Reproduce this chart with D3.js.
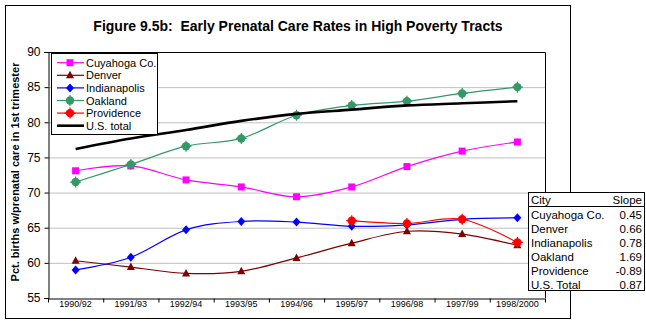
<!DOCTYPE html>
<html>
<head>
<meta charset="utf-8">
<script src="https://cdn.jsdelivr.net/npm/d3@7"></script>
<style>
  body { margin: 0; background: #fff; }
  svg { font-family: "Liberation Sans", Arial, sans-serif; }
</style>
</head>
<body>
<svg width="646" height="326"></svg>
<script>
const periods = ["1990/92", "1991/93", "1992/94", "1993/95", "1994/96", "1995/97", "1996/98", "1997/99", "1998/2000"];
const cuyahoga = [73.1, 73.8, 71.8, 70.8, 69.4, 70.8, 73.7, 75.9, 77.2];
const denver = [60.3, 59.4, 58.5, 58.8, 60.7, 62.8, 64.5, 64.1, 62.5];
const indianapolis = [59.0, 60.8, 64.7, 65.9, 65.8, 65.2, 65.4, 66.2, 66.4];
const oakland = [71.5, 74.0, 76.6, 77.7, 81.0, 82.4, 83.0, 84.1, 85.0];
const providence = [null, null, null, null, null, 66.0, 65.6, 66.2, 62.9];
const usTotal = [76.2, 77.7, 78.9, 80.2, 81.2, 81.8, 82.4, 82.7, 83.0];
const yTicks = [55, 60, 65, 70, 75, 80, 85, 90];
const tableCities = ["Cuyahoga Co.", "Denver", "Indianapolis", "Oakland", "Providence", "U.S. Total"];
const tableSlopes = ["0.45", "0.66", "0.78", "1.69", "-0.89", "0.87"];

const series = [
  {name: "Cuyahoga Co.", values: cuyahoga, color: "#ff00ff", marker: "square"},
  {name: "Denver", values: denver, color: "#800000", marker: "triangle"},
  {name: "Indianapolis", values: indianapolis, color: "#0000ff", marker: "diamond"},
  {name: "Oakland", values: oakland, color: "#339966", marker: "circle"},
  {name: "Providence", values: providence, color: "#ff0000", marker: "circle"},
  {name: "U.S. total", values: usTotal, color: "#000000", marker: null}
];

const svg = d3.select("svg");

// outer chart border
svg.append("rect").attr("x", 5.5).attr("y", 5.5).attr("width", 565).attr("height", 313)
  .attr("fill", "none").attr("stroke", "#000").attr("stroke-width", 1);

svg.append("text").attr("x", 298).attr("y", 31).attr("text-anchor", "middle")
  .attr("font-size", 14).attr("font-weight", "bold").style("white-space", "pre")
  .text("Figure 9.5b:  Early Prenatal Care Rates in High Poverty Tracts");

const pLeft = 48, pRight = 545, pTop = 52, pBottom = 298;
const x = d3.scaleBand().domain(periods).range([pLeft, pRight]);
const y = d3.scaleLinear().domain([55, 90]).range([pBottom, pTop]);
const cx = d => x(d) + x.bandwidth() / 2;

// gridlines
svg.append("g").selectAll("line").data(yTicks.filter(t => t > 55 && t < 90)).enter().append("line")
  .attr("x1", pLeft).attr("x2", pRight).attr("y1", d => y(d) + 0.5).attr("y2", d => y(d) + 0.5)
  .attr("stroke", "#c0c0c0");

// plot frame (top and right)
svg.append("path").attr("d", `M${pLeft},${pTop + 0.5}H${pRight + 0.5}V${pBottom}`)
  .attr("fill", "none").attr("stroke", "#000");

// y axis
const yAxis = svg.append("g").attr("transform", `translate(${pLeft + 0.5},0)`)
  .call(d3.axisLeft(y).tickValues(yTicks).tickSize(4).tickPadding(4));
yAxis.select(".domain").attr("stroke", "#000");
yAxis.selectAll("text").attr("font-size", 12).attr("font-family", "Liberation Sans, Arial");

// x axis
const xAxis = svg.append("g").attr("transform", `translate(0,${pBottom + 0.5})`)
  .call(d3.axisBottom(x).tickSize(0).tickPadding(2));
xAxis.select(".domain").attr("stroke", "#000");
xAxis.selectAll("text").attr("font-size", 9).attr("font-family", "Liberation Sans, Arial");
xAxis.selectAll(".edge").data(periods.concat([null])).enter().append("line")
  .attr("class", "edge")
  .attr("x1", d => (d === null ? pRight : x(d)) + 0.5)
  .attr("x2", d => (d === null ? pRight : x(d)) + 0.5)
  .attr("y1", 0).attr("y2", 4).attr("stroke", "#000");

svg.append("text").attr("transform", "translate(19,172) rotate(-90)")
  .attr("text-anchor", "middle").attr("font-size", 11).attr("font-weight", "bold")
  .text("Pct. births w/prenatal care in 1st trimester");

function drawMarker(g, type, color) {
  if (type === "square") {
    g.append("rect").attr("x", -3.5).attr("y", -3.5).attr("width", 7).attr("height", 7).attr("fill", color);
  } else if (type === "triangle") {
    g.append("path").attr("d", "M0,-4.5L4,3L-4,3Z").attr("fill", color);
  } else if (type === "diamond") {
    g.append("path").attr("d", "M0,-4.5L4,0L0,4.5L-4,0Z").attr("fill", color);
  } else if (type === "circle") {
    g.append("circle").attr("r", 4.2).attr("fill", color);
    g.append("path").attr("d", "M0,-5.5V5.5M-5.5,0H5.5").attr("stroke", color).attr("stroke-width", 1.2);
  }
}

const line = d3.line()
  .defined(d => d.v !== null)
  .x(d => cx(d.p)).y(d => y(d.v))
  .curve(d3.curveCatmullRom.alpha(0));

series.forEach(s => {
  const pts = periods.map((p, i) => ({p: p, v: s.values[i]}));
  svg.append("path").datum(pts).attr("d", line)
    .attr("fill", "none").attr("stroke", s.color)
    .attr("stroke-width", s.marker ? 1.2 : 2.6);
  if (s.marker) {
    pts.filter(d => d.v !== null).forEach(d => {
      const g = svg.append("g").attr("transform", `translate(${cx(d.p)},${y(d.v)})`);
      drawMarker(g, s.marker, s.color);
    });
  }
});

// legend
const leg = svg.append("g");
leg.append("rect").attr("x", 51.5).attr("y", 53.5).attr("width", 106).attr("height", 81)
  .attr("fill", "#fff").attr("stroke", "#000");
series.forEach((s, i) => {
  const ly = 62.7 + i * 12.6;
  leg.append("line").attr("x1", 57).attr("x2", 84).attr("y1", ly).attr("y2", ly)
    .attr("stroke", s.color).attr("stroke-width", s.marker ? 1.2 : 2.6);
  if (s.marker) {
    const g = leg.append("g").attr("transform", `translate(70,${ly})`);
    drawMarker(g, s.marker, s.color);
  }
  leg.append("text").attr("x", 86).attr("y", ly + 4).attr("font-size", 11).text(s.name);
});

// slope table
const tb = svg.append("g");
tb.append("rect").attr("x", 528.5).attr("y", 192.5).attr("width", 116).attr("height", 98)
  .attr("fill", "#fff").attr("stroke", "#000");
tb.append("line").attr("x1", 528.5).attr("x2", 644.5).attr("y1", 206.5).attr("y2", 206.5).attr("stroke", "#000");
tb.append("text").attr("x", 531).attr("y", 204).attr("font-size", 11.5).text("City");
tb.append("text").attr("x", 642).attr("y", 204).attr("text-anchor", "end").attr("font-size", 11.5).text("Slope");
tableCities.forEach((c, i) => {
  const ty = 218.5 + i * 14.1;
  tb.append("text").attr("x", 531).attr("y", ty).attr("font-size", 11.5).text(c);
  tb.append("text").attr("x", 642).attr("y", ty).attr("text-anchor", "end").attr("font-size", 11.5).text(tableSlopes[i]);
});
</script>
</body>
</html>
